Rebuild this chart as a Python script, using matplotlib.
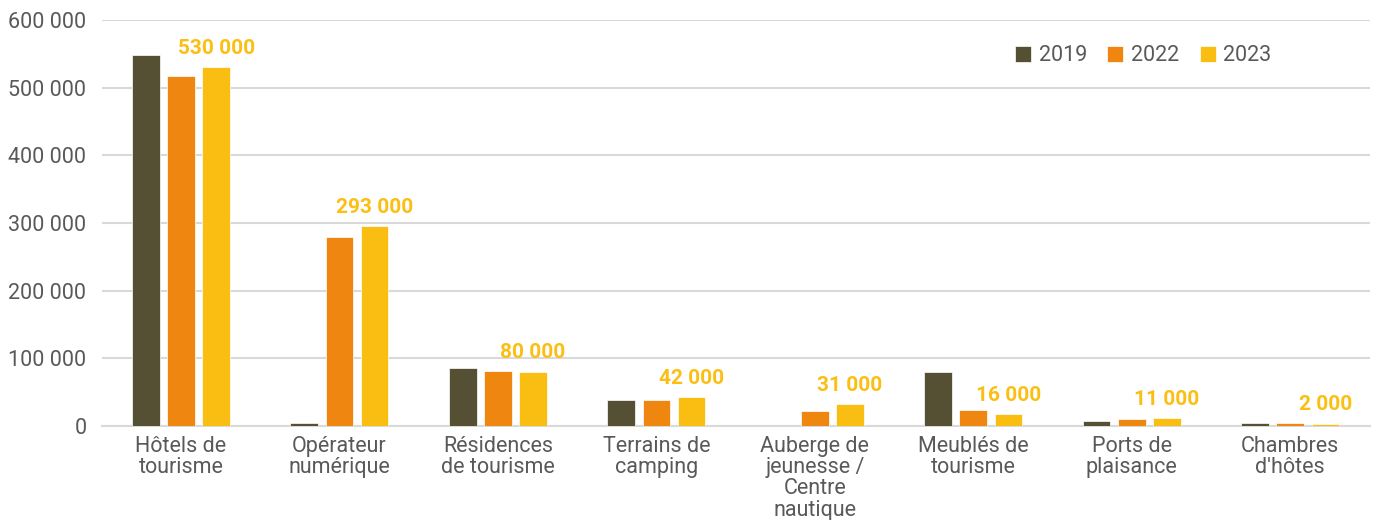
import numpy as np
import matplotlib.pyplot as plt
from matplotlib.ticker import FuncFormatter

plt.rcParams['font.family'] = ['Roboto', 'DejaVu Sans']

categories = ['Hôtels de\ntourisme', 'Opérateur\nnumérique', 'Résidences\nde tourisme',
              'Terrains de\ncamping', 'Auberge de\njeunesse /\nCentre\nnautique',
              'Meublés de\ntourisme', 'Ports de\nplaisance', 'Chambres\nd\'hôtes']
v2019 = [548000, 4000, 86000, 38000, 0, 79000, 7000, 4000]
v2022 = [517000, 279000, 81000, 38000, 22000, 23000, 10000, 4000]
v2023 = [530000, 295000, 80000, 42000, 32000, 17000, 11000, 3500]
labels2023 = ['530 000', '293 000', '80 000', '42 000', '31 000', '16 000', '11 000', '2 000']

c2019 = '#555033'
c2022 = '#ef860f'
c2023 = '#fabe12'
grey = '#595959'

fig = plt.figure(figsize=(13.75, 5.2), dpi=100)
ax = fig.add_axes([0.074, 0.181, 0.922, 0.7805])

x = np.arange(len(categories))
w = 0.175
off = 0.222
ax.bar(x - off, v2019, w, color=c2019, edgecolor='white', linewidth=0.5, label='2019', zorder=3)
ax.bar(x, v2022, w, color=c2022, edgecolor='white', linewidth=0.5, label='2022', zorder=3)
b3 = ax.bar(x + off, v2023, w, color=c2023, edgecolor='white', linewidth=0.5, label='2023', zorder=3)

for rect, lab in zip(b3, labels2023):
    ax.annotate(lab, (rect.get_x() + rect.get_width() / 2, rect.get_height()),
                xytext=(0, 7), textcoords='offset points', ha='center', va='bottom',
                color='#fbbf14', fontsize=15, fontweight='bold')

ax.set_xlim(-0.5, len(categories) - 0.5)
ax.set_ylim(0, 600000)
ax.set_yticks(np.arange(0, 600001, 100000))
ax.yaxis.set_major_formatter(FuncFormatter(lambda v, p: f'{int(v):,}'.replace(',', ' ')))
ax.set_xticks(x)
ax.set_xticklabels(categories, linespacing=1.02)
ax.tick_params(axis='both', length=0, labelsize=15.5, colors=grey)
ax.tick_params(axis='x', pad=7)
ax.tick_params(axis='y', pad=11)

ax.grid(axis='y', color='#d9d9d9', linewidth=1.5, zorder=0)
for s in ['top', 'right', 'left']:
    ax.spines[s].set_visible(False)
ax.spines['bottom'].set_color('#d9d9d9')
ax.spines['bottom'].set_linewidth(1.5)

leg = ax.legend(loc='upper right', bbox_to_anchor=(0.938, 0.985), ncol=3, frameon=False,
                fontsize=15.5, handlelength=0.75, handleheight=0.75, handletextpad=0.35,
                columnspacing=0.95)
for t in leg.get_texts():
    t.set_color(grey)

plt.savefig('out.png', dpi=100)
